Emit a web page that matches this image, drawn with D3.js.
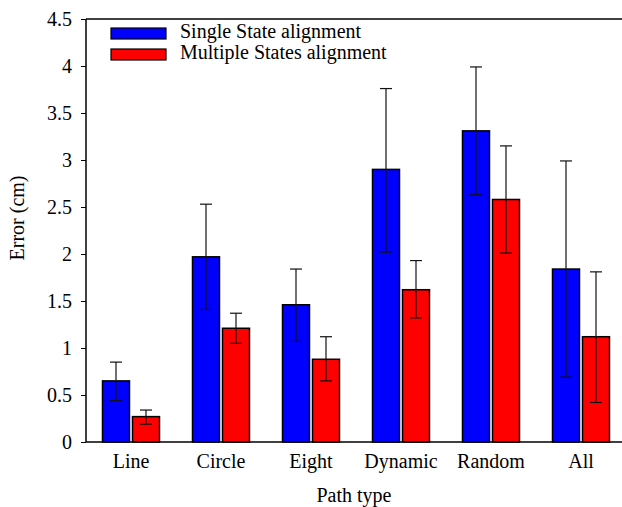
<!DOCTYPE html>
<html>
<head>
<meta charset="utf-8">
<script src="https://cdn.jsdelivr.net/npm/d3@7"></script>
<style>
  html, body { margin: 0; padding: 0; background: #fff; }
  svg { display: block; }
  svg text { font-family: "Liberation Serif", "Times New Roman", "DejaVu Serif", serif; fill: #000; }
</style>
</head>
<body>
<svg id="chart" width="622" height="507"></svg>
<script>
// Path types along the x axis
const categories = ["Line", "Circle", "Eight", "Dynamic", "Random", "All"];
const seriesNames = ["Single State alignment", "Multiple States alignment"];
const seriesColors = ["#0000ff", "#ff0000"];

// Mean error (cm) per path type
const singleMean = [0.65, 1.97, 1.46, 2.90, 3.31, 1.84];
const multipleMean = [0.27, 1.21, 0.88, 1.62, 2.58, 1.12];

// Error bar bounds (cm)
const singleLow  = [0.44, 1.41, 1.07, 2.02, 2.63, 0.69];
const singleHigh = [0.85, 2.53, 1.84, 3.76, 3.99, 2.99];
const multipleLow  = [0.19, 1.05, 0.65, 1.32, 2.01, 0.42];
const multipleHigh = [0.34, 1.37, 1.12, 1.93, 3.15, 1.81];

const yTicks = [0, 0.5, 1, 1.5, 2, 2.5, 3, 3.5, 4, 4.5];
const yTickLabels = ["0", "0.5", "1", "1.5", "2", "2.5", "3", "3.5", "4", "4.5"];

const series = [
  { name: seriesNames[0], color: seriesColors[0], mean: singleMean, low: singleLow, high: singleHigh },
  { name: seriesNames[1], color: seriesColors[1], mean: multipleMean, low: multipleLow, high: multipleHigh }
];

const svg = d3.select("#chart");
const W = 622;
const plotLeft = 86, plotTop = 19, plotBottom = 442;
const fontSize = 20;

const y = d3.scaleLinear().domain([0, 4.5]).range([plotBottom, plotTop]);
const x0 = d3.scaleBand().domain(categories).range([plotLeft, plotLeft + 90 * categories.length]).paddingInner(0).paddingOuter(0);
const x1 = d3.scaleBand().domain(seriesNames).range([-28.5, 28.5]).paddingInner(0.1);

const rows = [];
series.forEach(s => categories.forEach((c, i) => {
  rows.push({ cat: c, name: s.name, color: s.color, v: s.mean[i], lo: s.low[i], hi: s.high[i] });
}));

// Bars
svg.append("g").selectAll("rect").data(rows).join("rect")
  .attr("x", d => x0(d.cat) + x0.bandwidth() / 2 + x1(d.name))
  .attr("y", d => y(d.v))
  .attr("width", x1.bandwidth())
  .attr("height", d => y(0) - y(d.v))
  .attr("fill", d => d.color)
  .attr("stroke", "#000")
  .attr("stroke-width", 1.5);

// Error bars
const eb = svg.append("g").attr("stroke", "#111").attr("stroke-width", 1.2);
rows.forEach(d => {
  const cx = x0(d.cat) + x0.bandwidth() / 2 + x1(d.name) + x1.bandwidth() / 2;
  eb.append("line").attr("x1", cx).attr("x2", cx).attr("y1", y(d.lo)).attr("y2", y(d.hi));
  [d.lo, d.hi].forEach(v => {
    eb.append("line").attr("x1", cx - 6).attr("x2", cx + 6).attr("y1", y(v)).attr("y2", y(v));
  });
});

// Frame: left axis, top line and baseline
const frame = svg.append("g").attr("stroke", "#000").attr("stroke-width", 1.5);
frame.append("line").attr("x1", plotLeft).attr("x2", plotLeft).attr("y1", y(4.5)).attr("y2", y(0));
frame.append("line").attr("x1", plotLeft).attr("x2", W).attr("y1", y(4.5)).attr("y2", y(4.5));
frame.append("line").attr("x1", plotLeft).attr("x2", W).attr("y1", y(0)).attr("y2", y(0));

// Y axis ticks and labels
const yAxis = d3.axisLeft(y).tickValues(yTicks).tickFormat((d, i) => yTickLabels[i]).tickSize(5).tickPadding(9);
const gy = svg.append("g").attr("transform", `translate(${plotLeft},0)`).call(yAxis)
  .attr("font-family", null).attr("font-size", fontSize);
gy.select(".domain").remove();
gy.selectAll("line").attr("stroke", "#000").attr("stroke-width", 1);

// X axis labels
const xAxis = d3.axisBottom(x0).tickSize(0).tickPadding(12);
const gx = svg.append("g").attr("transform", `translate(0,${plotBottom})`).call(xAxis)
  .attr("font-family", null).attr("font-size", fontSize);
gx.select(".domain").remove();

// Axis titles
svg.append("text").attr("x", 354).attr("y", 502).attr("text-anchor", "middle")
  .attr("font-size", fontSize).text("Path type");
svg.append("text").attr("transform", "translate(24,218) rotate(-90)").attr("text-anchor", "middle")
  .attr("font-size", fontSize).text("Error (cm)");

// Legend
const legend = svg.append("g");
series.forEach((s, i) => {
  const ly = 28 + i * 21;
  legend.append("rect").attr("x", 111).attr("y", ly).attr("width", 55).attr("height", 11)
    .attr("fill", s.color).attr("stroke", "#000").attr("stroke-width", 1.2);
  legend.append("text").attr("x", 180).attr("y", ly + 10).attr("font-size", fontSize).text(s.name);
});
</script>
</body>
</html>
